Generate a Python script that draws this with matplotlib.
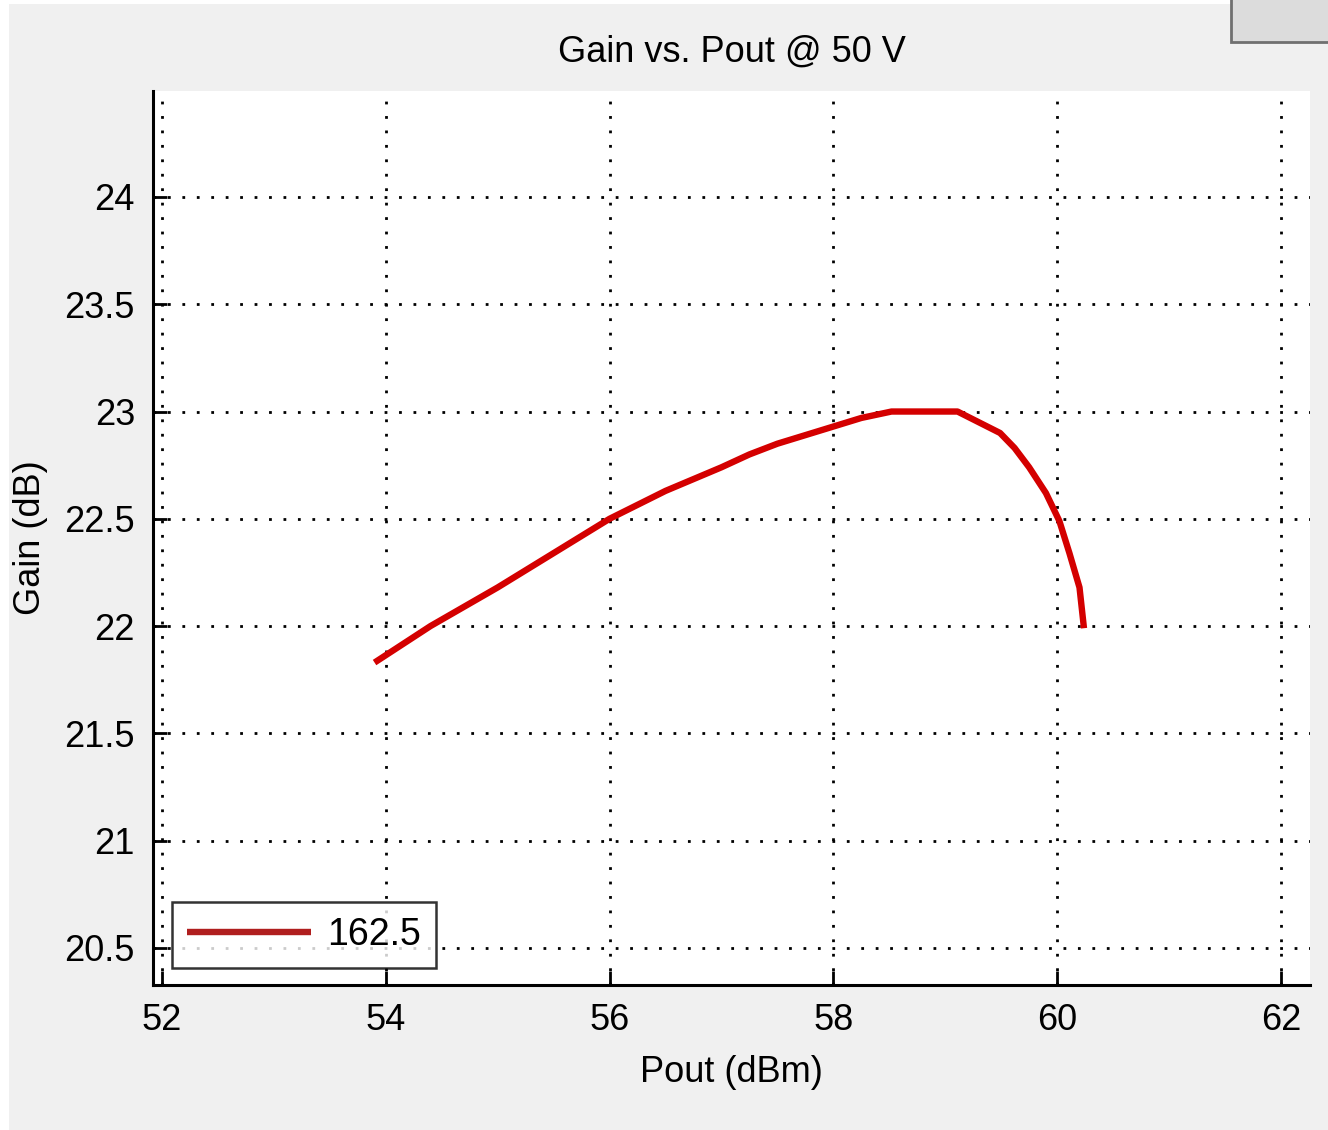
import matplotlib
matplotlib.use("Agg")
import matplotlib.pyplot as plt
from matplotlib.patches import Rectangle

# Gain vs. Pout @ 50 V
pout = [53.90, 54.40, 55.00, 55.50, 56.00, 56.50, 57.00, 57.25, 57.50,
        57.75, 58.00, 58.25, 58.52, 58.80, 59.11, 59.30, 59.49, 59.62,
        59.75, 59.90, 60.02, 60.11, 60.20, 60.24]
gain = [21.83, 22.00, 22.18, 22.34, 22.50, 22.63, 22.74, 22.80, 22.85,
        22.89, 22.93, 22.97, 23.00, 23.00, 23.00, 22.95, 22.90, 22.83,
        22.74, 22.62, 22.49, 22.34, 22.18, 21.99]
series_label = "162.5"

xticks = [52, 54, 56, 58, 60, 62]
yticks = [20.5, 21, 21.5, 22, 22.5, 23, 23.5, 24]
ytick_labels = ["20.5", "21", "21.5", "22", "22.5", "23", "23.5", "24"]

W, H = 1328, 1130
plt.rcParams["font.family"] = ["Liberation Sans", "DejaVu Sans"]

fig = plt.figure(figsize=(W / 100, H / 100), dpi=100, facecolor="#f0f0f0")

# white strips of the screenshot edges
fig.patches.append(Rectangle((0, 0), 9 / W, 1, transform=fig.transFigure,
                             facecolor="white", edgecolor="none", zorder=-1))
fig.patches.append(Rectangle((0, 1 - 4 / H), 1, 4 / H, transform=fig.transFigure,
                             facecolor="white", edgecolor="none", zorder=-1))
# piece of a button in the top right corner
fig.patches.append(Rectangle((1231 / W, 1 - 42 / H), 110 / W, 50 / H,
                             transform=fig.transFigure, facecolor="#dcdcdc",
                             edgecolor="#707070", linewidth=2.0))

left, right, top, bottom = 153, 1310, 91, 985
ax = fig.add_axes([left / W, 1 - bottom / H, (right - left) / W, (bottom - top) / H])
ax.set_facecolor("white")

ax.plot(pout, gain, color="#d40000", linewidth=4.6, label=series_label,
        solid_capstyle="butt", solid_joinstyle="round")

ax.set_xlim(51.92, 62.26)
ax.set_ylim(20.327, 24.494)
ax.set_xticks(xticks)
ax.set_xticklabels([str(t) for t in xticks])
ax.set_yticks(yticks)
ax.set_yticklabels(ytick_labels)

ax.grid(True, color="black", linestyle=(0, (1, 4.2)), linewidth=2.0)
ax.set_axisbelow(True)

for side in ("top", "right"):
    ax.spines[side].set_visible(False)
for side in ("left", "bottom"):
    ax.spines[side].set_linewidth(2.2)

ax.tick_params(direction="in", length=10, width=2.0, labelsize=26,
               top=False, right=False)
ax.tick_params(axis="x", pad=13)
ax.tick_params(axis="y", pad=13)

ax.set_title("Gain vs. Pout @ 50 V", fontsize=26, pad=21)
ax.set_xlabel("Pout (dBm)", fontsize=26, labelpad=12)
ax.set_ylabel("Gain (dB)", fontsize=26, labelpad=12)

leg = ax.legend(loc="lower left", fontsize=27, frameon=True, fancybox=False,
                handlelength=3.3, handletextpad=0.45, borderpad=0.4,
                borderaxespad=0, bbox_to_anchor=(0.0164, 0.019))
leg.get_frame().set_edgecolor("black")
leg.get_frame().set_linewidth(1.8)
leg.get_lines()[0].set_color("#b01e1e")

fig.savefig("out.png", dpi=100, facecolor=fig.get_facecolor())
